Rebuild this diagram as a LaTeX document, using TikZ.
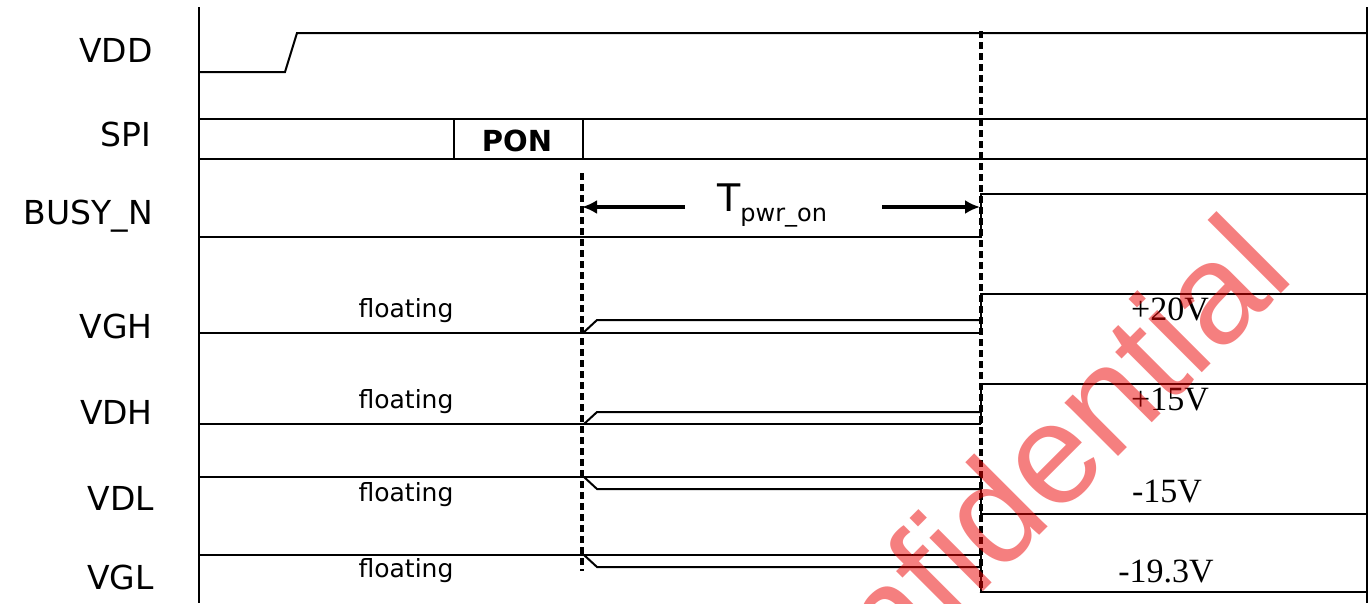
\documentclass[tikz,border=0pt]{standalone}
\usepackage{fontspec}
\setmainfont{DejaVu Sans}
\newfontfamily\serifv{Liberation Serif}
\newfontfamily\wmfont{Liberation Sans}
\usetikzlibrary{arrows.meta}
\definecolor{wmred}{RGB}{235,0,0}
\begin{document}
\begin{tikzpicture}[x=1pt,y=-1pt,
  sig/.style={line width=2pt, line join=miter},
  guide/.style={line width=3.2pt, dash pattern=on 7pt off 4pt},
  lbl/.style={font=\fontsize{33}{33}\selectfont, anchor=base east, inner sep=0pt},
  flt/.style={font=\fontsize{25}{25}\selectfont, anchor=base, inner sep=0pt},
  volt/.style={font=\serifv\fontsize{34}{34}\selectfont, anchor=base, inner sep=0pt},
  dimarrow/.style={line width=3.4pt, -{Latex[length=15pt,width=14pt]}}]
\useasboundingbox (0,0) rectangle (1372,603);

% frame
\draw[sig] (199,7) -- (199,603);
\draw[sig] (1367,7) -- (1367,603);

% signal names
\node[lbl] (nvdd) at (153,62) {VDD};
\node[lbl] (nspi) at (151,146) {SPI};
\node[lbl] (nbusy) at (153,224) {BUSY\_N};
\node[lbl] (nvgh) at (153,338) {VGH};
\node[lbl] (nvdh) at (153,424) {VDH};
\node[lbl] (nvdl) at (154,510) {VDL};
\node[lbl] (nvgl) at (154,589) {VGL};

% VDD
\draw[sig] (199,72) -- (285,72) -- (297,33) -- (1367,33);

% SPI
\draw[sig] (199,119) -- (1367,119);
\draw[sig] (199,159) -- (1367,159);
\draw[sig] (454,119) -- (454,159);
\draw[sig] (583,119) -- (583,159);
\node[font=\bfseries\fontsize{29}{29}\selectfont, anchor=base, inner sep=0pt] (pon) at (517,151) {PON};

% BUSY_N
\draw[sig] (199,237) -- (981,237) -- (981,194) -- (1367,194);

% VGH
\draw[sig] (199,333) -- (981,333);
\draw[sig] (583,333) -- (597,320) -- (981,320);
\draw[sig] (981,333) -- (981,294) -- (1367,294);

% VDH
\draw[sig] (199,424) -- (981,424);
\draw[sig] (584,424) -- (597,412) -- (981,412);
\draw[sig] (981,424) -- (981,384) -- (1367,384);

% VDL
\draw[sig] (199,477) -- (981,477);
\draw[sig] (584,477) -- (597,489) -- (981,489);
\draw[sig] (981,477) -- (981,514) -- (1367,514);

% VGL
\draw[sig] (199,555) -- (981,555);
\draw[sig] (584,555) -- (597,567) -- (981,567);
\draw[sig] (981,555) -- (981,592) -- (1367,592);

% floating labels
\node[flt] (f1) at (406,317) {floating};
\node[flt] (f2) at (406,408) {floating};
\node[flt] (f3) at (406,501) {floating};
\node[flt] (f4) at (406,577) {floating};

% voltage labels
\node[volt] (v1) at (1170,320) {+20V};
\node[volt] (v2) at (1170,410) {+15V};
\node[volt] (v3) at (1167,502) {-15V};
\node[volt] (v4) at (1166,582) {-19.3V};

% guides
\coordinate (g1t) at (582,173);
\coordinate (g1b) at (582,571);
\coordinate (g2t) at (981,31);
\coordinate (g2b) at (981,592);
\draw[guide] (g1t) -- (g1b);
\draw[guide] (g2t) -- (g2b);

% T_pwr_on
\node[anchor=base west, inner sep=0pt, font=\fontsize{38}{38}\selectfont] (tpw) at (717,211) {T\raisebox{-10pt}{\fontsize{24}{24}\selectfont pwr\_on}};
\coordinate (al) at (685,207);
\coordinate (ar) at (882,207);
\coordinate (tl) at (582,207);
\coordinate (tr) at (980,207);
\draw[dimarrow] (al) -- (tl);
\draw[dimarrow] (ar) -- (tr);

% watermark
\node[rotate=45, anchor=base east, inner sep=0pt, text=wmred, text opacity=0.5,
      font=\wmfont\fontsize{143}{143}\selectfont] (wm) at (1297,278) {Confidential};
\end{tikzpicture}
\end{document}
